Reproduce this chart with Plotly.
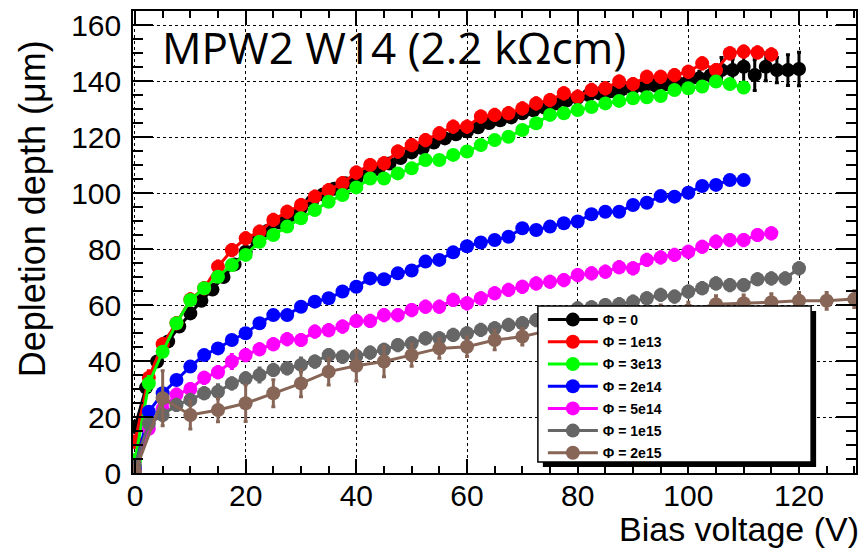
import plotly.graph_objects as go

# ---------------- data ----------------
v_black = [0, 2, 4, 6, 8, 10, 12, 14, 16, 18, 20, 22, 24, 26, 28, 30, 32, 34, 36, 38, 40,
           42, 44, 46, 48, 50, 52, 54, 56, 58, 60, 62, 64, 66, 68, 70, 72, 74, 76, 78, 80,
           82, 84, 86, 88, 90, 92, 94, 96, 98, 100, 102, 104, 106, 108, 110, 112, 114, 116, 118, 120]
d_black = [16.5, 30.5, 39.8, 47.0, 52.3, 57.0, 61.5, 65.5, 70.0, 74.5, 79.0, 83.0, 86.5, 89.5, 92.0,
           94.5, 97.0, 99.5, 101.5, 103.5, 105.0, 107.0, 108.5, 110.5, 112.5, 114.5, 116.0, 118.0,
           119.5, 121.0, 122.0, 123.5, 125.0, 126.0, 127.0, 128.5, 129.5, 130.5, 132.0, 133.0, 134.0,
           135.0, 135.5, 136.3, 137.0, 137.5, 138.0, 138.5, 139.0, 139.5, 140.0, 141.0, 142.0, 143.9,
           143.9, 145.1, 142.1, 145.1, 143.9, 143.9, 144.3]
e_black = [1.5, 2.0, 1.5, 1.5, 1.5, 1.5, 1.5, 1.5, 1.5, 1.5, 1.5, 1.5, 1.5, 1.5, 1.5, 1.5, 1.5, 1.5,
           1.5, 1.5, 1.5, 1.5, 1.5, 1.5, 1.5, 1.5, 1.5, 1.5, 1.5, 1.5, 1.5, 1.5, 1.5, 1.5, 1.5, 1.5,
           1.5, 1.5, 1.5, 1.5, 1.5, 1.5, 1.5, 1.5, 1.5, 1.5, 2.0, 2.0, 2.0, 2.0, 2.5, 2.5, 2.5, 4.5,
           4.0, 6.0, 5.5, 5.0, 4.5, 5.5, 6.0]

v_red = [0, 2.5, 5, 7.5, 10, 12.5, 15, 17.5, 20, 22.5, 25, 27.5, 30, 32.5, 35, 37.5, 40, 42.5,
         45, 47.5, 50, 52.5, 55, 57.5, 60, 62.5, 65, 67.5, 70, 72.5, 75, 77.5, 80, 82.5, 85, 87.5,
         90, 92.5, 95, 97.5, 100, 102.5, 105, 107.5, 110, 112.5, 115]
d_red = [11.2, 34.0, 46.0, 53.5, 62.0, 66.0, 73.7, 79.6, 83.8, 86.2, 90.4, 93.3, 95.7, 98.7, 101.0,
         103.5, 107.3, 110.0, 110.6, 114.8, 117.1, 118.9, 121.3, 123.7, 123.7, 127.3, 127.9, 128.5,
         130.2, 132.0, 133.2, 135.6, 134.4, 136.8, 137.4, 139.8, 138.9, 141.5, 141.5, 142.1, 143.3,
         146.3, 143.9, 149.9, 150.5, 150.2, 149.5]
e_red = [2.0, 2.5, 2.0, 2.0, 2.0, 2.0, 2.0, 2.0, 2.0, 2.0, 2.0, 2.0, 2.0, 2.0, 2.0, 2.0,
         2.0, 2.0, 2.0, 2.0, 2.0, 2.0, 2.0, 2.0, 2.0, 2.0, 2.0, 2.0, 2.0, 2.0, 2.0, 2.0,
         2.0, 2.0, 2.0, 2.0, 2.0, 2.0, 2.0, 2.0, 2.0, 2.0, 2.0, 2.0, 2.0, 2.0, 2.0]

v_green = [0, 2.5, 5, 7.5, 10, 12.5, 15, 17.5, 20, 22.5, 25, 27.5, 30, 32.5, 35, 37.5, 40, 42.5,
           45, 47.5, 50, 52.5, 55, 57.5, 60, 62.5, 65, 67.5, 70, 72.5, 75, 77.5, 80, 82.5, 85, 87.5,
           90, 92.5, 95, 97.5, 100, 102.5, 105, 107.5, 110]
d_green = [4.6, 32.0, 43.3, 53.5, 61.8, 66.0, 70.1, 74.3, 77.9, 82.6, 85.0, 88.0, 91.0, 93.9, 96.9,
           99.3, 102.0, 105.2, 105.2, 107.0, 108.8, 111.8, 111.8, 113.6, 114.8, 117.1, 118.9, 120.1,
           122.5, 124.9, 127.9, 128.5, 129.6, 130.7, 132.0, 132.9, 133.8, 134.2, 134.6, 136.8, 137.4,
           138.0, 139.8, 138.9, 137.7]
e_green = [1.0, 2.5, 1.0, 1.0, 1.0, 1.0, 1.0, 1.0, 1.0, 1.0, 1.0, 1.0, 1.0, 1.0, 1.0,
           1.0, 1.0, 1.0, 1.0, 1.0, 1.0, 1.0, 1.0, 1.0, 1.0, 1.0, 1.0, 1.0, 1.0, 1.0,
           1.0, 1.0, 1.0, 1.0, 1.0, 1.0, 1.0, 1.0, 1.0, 1.0, 1.0, 1.0, 1.0, 1.0, 1.0]

v_blue = [0, 2.5, 5, 7.5, 10, 12.5, 15, 17.5, 20, 22.5, 25, 27.5, 30, 32.5, 35, 37.5, 40, 42.5,
          45, 47.5, 50, 52.5, 55, 57.5, 60, 62.5, 65, 67.5, 70, 72.5, 75, 77.5, 80, 82.5, 85, 87.5,
          90, 92.5, 95, 97.5, 100, 102.5, 105, 107.5, 110]
d_blue = [1.5, 21.9, 28.5, 33.2, 38.0, 42.1, 44.5, 47.5, 49.9, 53.5, 56.4, 56.4, 59.4, 61.2, 62.4,
          64.8, 66.5, 69.5, 69.2, 71.3, 72.3, 75.5, 76.1, 78.8, 81.0, 82.3, 83.2, 84.4, 87.4, 86.8,
          88.0, 89.2, 89.8, 92.4, 93.3, 93.3, 95.7, 96.5, 98.9, 98.7, 100.1, 102.5, 102.9, 104.6, 104.6]
e_blue = [1.0, 1.5, 1.5, 1.5, 1.5, 1.5, 1.5, 1.5, 1.5, 1.5, 1.5, 1.5, 1.5, 1.5, 1.5, 1.5, 1.5,
          1.5, 1.5, 1.5, 1.5, 1.5, 1.5, 1.5, 1.5, 1.5, 1.5, 1.5, 1.5, 1.5, 1.5, 1.5, 1.5, 1.5,
          1.5, 1.5, 1.5, 1.5, 1.5, 1.5, 1.5, 1.5, 1.5, 1.5, 1.5]

v_magenta = [0, 2.5, 5, 7.5, 10, 12.5, 15, 17.5, 20, 22.5, 25, 27.5, 30, 32.5, 35, 37.5, 40, 42.5,
             45, 47.5, 50, 52.5, 55, 57.5, 60, 62.5, 65, 67.5, 70, 72.5, 75, 77.5, 80, 82.5, 85,
             87.5, 90, 92.5, 95, 97.5, 100, 102.5, 105, 107.5, 110, 112.5, 115]
d_magenta = [0.5, 15.8, 23.0, 28.0, 30.0, 34.0, 36.0, 39.8, 42.1, 44.2, 46.0, 47.8, 47.5, 50.5, 51.0,
             52.3, 54.3, 54.3, 56.4, 56.4, 58.2, 59.4, 59.4, 61.8, 60.6, 62.4, 64.2, 65.4, 66.5, 67.7,
             68.3, 68.9, 70.7, 71.3, 71.9, 73.5, 73.1, 76.1, 77.0, 77.9, 79.0, 80.8, 82.6, 83.2, 83.2,
             85.0, 85.6]
e_magenta = [1.0, 1.5, 2.0, 2.0, 2.0, 2.0, 2.0, 2.5, 2.0, 2.0, 2.0, 2.0, 2.0, 2.0, 2.0, 2.0, 2.0,
             2.0, 2.0, 2.0, 2.0, 2.0, 2.0, 2.0, 2.0, 2.0, 2.0, 2.0, 2.0, 2.0, 2.0, 2.0, 2.0, 2.0,
             2.0, 2.0, 2.0, 2.0, 2.0, 2.0, 2.0, 2.0, 2.0, 2.0, 2.0, 2.0, 2.0]

v_grey = [0, 2.5, 5, 7.5, 10, 12.5, 15, 17.5, 20, 22.5, 25, 27.5, 30, 32.5, 35, 37.5, 40, 42.5,
          45, 47.5, 50, 52.5, 55, 57.5, 60, 62.5, 65, 67.5, 70, 72.5, 75, 77.5, 80, 82.5, 85, 87.5,
          90, 92.5, 95, 97.5, 100, 102.5, 105, 107.5, 110, 112.5, 115, 117.5, 120]
d_grey = [2.9, 17.7, 20.7, 24.3, 26.1, 28.5, 29.0, 32.0, 33.8, 35.0, 36.8, 37.4, 38.6, 39.8, 42.1,
          41.5, 41.8, 43.0, 44.0, 45.7, 46.3, 48.1, 48.1, 49.3, 49.9, 51.1, 51.7, 52.9, 53.5, 54.6,
          56.0, 57.0, 58.8, 59.2, 60.0, 60.3, 61.2, 62.4, 63.6, 63.0, 64.8, 66.0, 67.7, 67.1, 67.1,
          69.2, 69.5, 69.5, 73.1]
e_grey = [1.0, 1.5, 2.0, 2.0, 2.0, 2.0, 2.5, 2.0, 2.0, 2.5, 2.0, 2.0, 2.5, 2.0, 2.0, 2.0, 2.0,
          2.0, 2.0, 2.0, 2.0, 2.0, 2.0, 2.0, 2.0, 2.0, 2.0, 2.0, 2.0, 2.0, 2.0, 2.0, 2.0, 2.0,
          2.0, 2.0, 2.0, 2.0, 2.0, 2.0, 2.0, 2.0, 2.0, 2.0, 2.0, 2.0, 2.0, 2.0, 2.0]

v_brown = [0, 5, 10, 15, 20, 25, 30, 35, 40, 45, 50, 55, 60, 65, 70, 75, 80, 85, 90, 95, 100,
           105, 110, 115, 120, 125, 130]
d_brown = [0.5, 26.7, 20.7, 22.5, 24.9, 28.5, 32.0, 36.2, 38.3, 39.8, 42.1, 44.5, 45.1, 47.5,
           48.7, 51.0, 53.0, 55.0, 56.0, 57.0, 58.0, 60.3, 60.6, 61.0, 61.5, 61.5, 62.1]
e_brown = [1.0, 9.8, 5.0, 4.2, 6.5, 4.8, 4.8, 4.8, 5.4, 5.4, 4.0, 3.5, 3.5, 3.5, 3.0, 3.0, 3.0,
           3.0, 3.0, 3.0, 3.0, 3.0, 3.0, 3.0, 3.0, 3.0, 3.0]

labels = ["Φ = 0", "Φ = 1e13", "Φ = 3e13", "Φ = 2e14", "Φ = 5e14", "Φ = 1e15", "Φ = 2e15"]
colors = ["#000000", "#ff0000", "#00ff00", "#0000ff", "#ff00ff", "#666666", "#876657"]

series = [
    (v_black, d_black, e_black),
    (v_red, d_red, e_red),
    (v_green, d_green, e_green),
    (v_blue, d_blue, e_blue),
    (v_magenta, d_magenta, e_magenta),
    (v_grey, d_grey, e_grey),
    (v_brown, d_brown, e_brown),
]

# ---------------- figure ----------------
W, H = 864, 550
L, R, T, B = 133, 6, 11, 77
PW, PH = W - L - R, H - T - B


def px2paper_x(px):
    return (px - L) / PW


def px2paper_y(py):
    return (H - B - py) / PH


fig = go.Figure()
for i, ((xv, yv, ev), lab, col) in enumerate(zip(series, labels, colors)):
    fig.add_trace(go.Scatter(
        x=xv, y=yv, name=lab, mode="lines+markers", legendgroup=f"g{i}",
        line=dict(color=col, width=3),
        marker=dict(color=col, size=14, symbol="circle", line=dict(width=0)),
        error_y=dict(type="data", array=ev, visible=True, color=col, thickness=3, width=2),
    ))

axis_common = dict(
    showline=True, linecolor="black", linewidth=1.5, mirror="ticks",
    ticks="inside", tickcolor="black", tickwidth=1.5,
    showgrid=True, gridcolor="black", gridwidth=1, griddash="dot",
    zeroline=False,
    tickfont=dict(family="Liberation Sans, Arial, sans-serif", size=30, color="black"),
)

fig.update_xaxes(
    range=[-0.36, 130.3], tick0=0, dtick=20, ticklen=14,
    minor=dict(ticks="inside", dtick=5, ticklen=7, tickcolor="black", tickwidth=1.5, showgrid=False),
    ticklabelstandoff=-5,
    **axis_common,
)
fig.update_yaxes(
    range=[0, 165], tick0=0, dtick=20, ticklen=20,
    minor=dict(ticks="inside", dtick=5, ticklen=10, tickcolor="black", tickwidth=1.5, showgrid=False),
    ticklabelstandoff=4,
    **axis_common,
)

# legend box (ROOT-style with drop shadow)
lx0, lx1, ly0, ly1 = 539, 813, 306, 462
shadow = 5
fig.add_shape(type="rect", xref="paper", yref="paper", layer="above",
              x0=px2paper_x(lx0 + shadow), x1=px2paper_x(lx1 + shadow),
              y0=px2paper_y(ly1 + shadow), y1=px2paper_y(ly0 + shadow),
              fillcolor="black", line=dict(width=0))
fig.add_shape(type="rect", xref="paper", yref="paper", layer="above",
              x0=px2paper_x(lx0), x1=px2paper_x(lx1),
              y0=px2paper_y(ly1), y1=px2paper_y(ly0),
              fillcolor="white", line=dict(color="black", width=1.5))

fig.update_layout(
    width=W, height=H,
    margin=dict(l=L, r=R, t=T, b=B, pad=0),
    paper_bgcolor="white", plot_bgcolor="white",
    showlegend=True,
    legend=dict(
        x=px2paper_x(544), y=px2paper_y(304), xanchor="left", yanchor="top",
        bgcolor="rgba(0,0,0,0)", borderwidth=0, itemwidth=50,
        font=dict(family="Liberation Sans, Arial, sans-serif", size=14, color="black", weight="bold"),
        tracegroupgap=1,
    ),
    annotations=[
        dict(text="MPW2 W14 (2.2 kΩcm)", xref="paper", yref="paper",
             x=px2paper_x(160), y=px2paper_y(47), xanchor="left", yanchor="middle",
             showarrow=False, font=dict(family="Open Sans, Noto Sans, sans-serif", size=44, color="black")),
        dict(text="Depletion depth (μm)", xref="paper", yref="paper",
             x=px2paper_x(32), y=px2paper_y(209), xanchor="center", yanchor="middle",
             textangle=-90, showarrow=False,
             font=dict(family="Liberation Sans, Arial, sans-serif", size=36, color="black")),
        dict(text="Bias voltage (V)", xref="paper", yref="paper",
             x=px2paper_x(863), y=px2paper_y(549.5), xanchor="right", yanchor="bottom",
             showarrow=False,
             font=dict(family="Liberation Sans, Arial, sans-serif", size=34, color="black")),
    ],
)

fig.write_html(
    "out.html",
    config={"displayModeBar": False},
    post_script="document.body.style.margin='0';document.body.style.overflow='hidden';",
)
